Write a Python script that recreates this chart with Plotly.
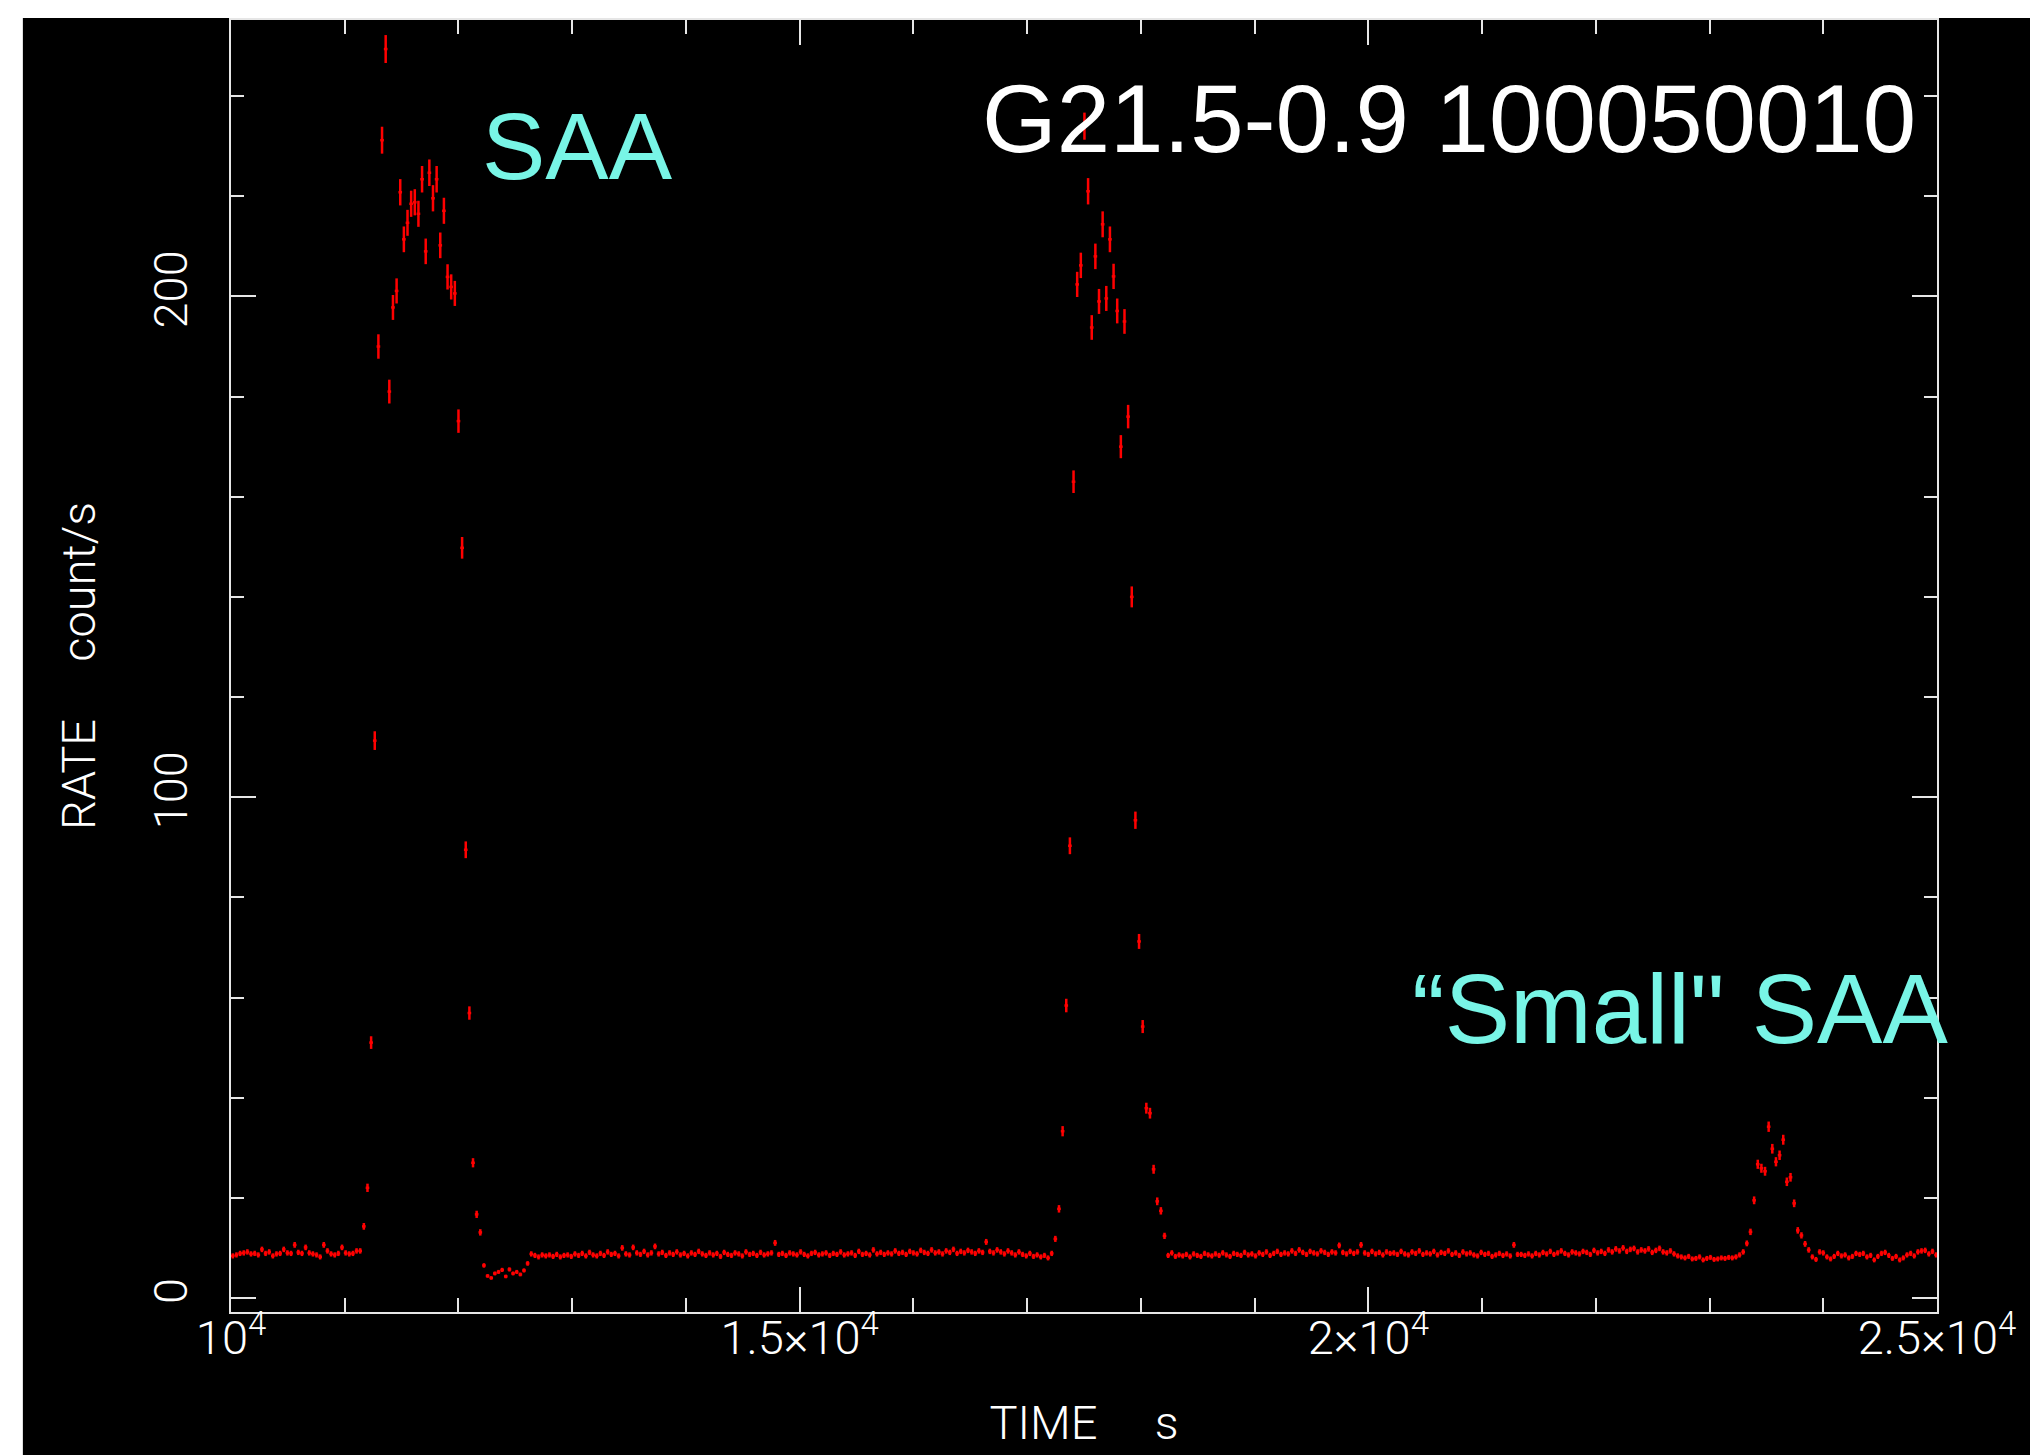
import numpy as np
import plotly.graph_objects as go

# light curve: 32 s bins from 1e4 s to 2.5e4 s
BIN = 32.0
T_START = 10000.0

rate_pre_saa1 = [8.4, 8.6, 8.9, 9.0, 9.2, 8.8, 8.9, 8.6, 9.7, 8.9,
                 9.2, 8.4, 8.8, 8.9, 9.7, 9.0, 8.9, 10.6, 9.1, 8.9,
                 10.1, 9.0, 8.8, 8.6, 8.2, 10.6, 9.4, 8.8, 8.6, 8.9,
                 10.1, 9.0, 8.8, 8.9, 9.4]
rate_saa1 = [9.4, 14.3, 22.0, 51.0, 111.3, 190.0, 231.2, 249.4, 181.0, 197.8,
             201.1, 220.8, 211.4, 214.7, 218.5, 218.8, 216.5, 223.4, 209.0, 224.7,
             219.6, 223.4, 210.2, 217.1, 203.9, 201.9, 200.6, 175.1, 149.8, 89.5,
             56.9, 27.0, 16.7, 13.1, 6.5]
rate_dip = [4.4, 4.0, 4.9, 5.2, 5.6, 4.3, 5.7, 4.9, 5.2, 4.7, 5.5, 6.9]
rate_mid1 = [8.8, 8.5, 8.2, 8.6, 8.4, 8.6, 8.3, 8.7, 8.2, 8.5,
             8.6, 8.3, 8.8, 8.5, 8.9, 8.4, 9.1, 8.6, 8.4, 8.9,
             8.5, 9.2, 8.7, 8.9, 8.4, 10.0, 8.8, 8.6, 10.1, 9.0,
             8.7, 9.3, 8.6, 9.0, 10.3, 8.8, 9.1, 8.5, 9.0, 8.7,
             9.2, 8.6, 8.9, 8.4, 9.0, 8.7, 9.3, 8.8, 8.5, 9.0,
             8.6, 8.9, 8.3, 9.1, 8.7, 8.5, 9.0, 8.8, 8.4, 9.2,
             8.7, 8.9, 8.5, 9.1, 8.6, 8.8, 9.0, 11.0, 8.7, 8.9,
             8.5, 9.0, 8.8, 8.6, 9.2, 8.7, 8.4, 8.9, 9.1, 8.6,
             8.8, 9.0, 8.5, 8.9, 8.7, 9.2, 8.6, 8.8, 9.0, 8.5,
             9.3, 8.7, 8.9, 8.6, 9.6, 8.8, 9.1, 8.7, 9.0, 8.8,
             9.4, 8.9, 9.1, 8.7, 9.3, 9.0, 8.8, 9.5, 9.1, 8.9,
             9.6, 9.0, 9.2, 8.8, 9.4, 9.1, 9.7, 8.9, 9.3, 9.0,
             9.5, 9.2, 8.9, 9.4, 9.1, 11.2, 9.3, 9.0, 9.6, 9.2,
             8.8, 9.4, 9.0, 8.6, 9.2, 8.7, 8.4, 8.9, 8.3, 8.6,
             8.2, 8.5]
rate_saa2 = [8.0, 8.9, 11.8, 17.8, 33.3, 58.4, 90.3, 163.0, 202.4, 206.2,
             234.0, 221.0, 193.8, 208.0, 199.0, 214.4, 199.6, 211.4, 204.0, 197.1,
             170.0, 195.0, 176.0, 140.0, 95.4, 71.2, 54.2, 37.9, 36.9, 25.7,
             19.3, 17.4, 12.4, 8.5, 9.0]
rate_mid2 = [8.3, 8.6, 8.4, 8.7, 8.2, 8.8, 8.5, 8.3, 8.9, 8.6,
             8.4, 8.8, 8.5, 9.0, 8.6, 8.3, 8.9, 8.7, 8.5, 9.1,
             8.6, 8.8, 8.4, 9.0, 8.7, 9.2, 8.5, 8.9, 9.3, 8.7,
             9.0, 8.8, 9.4, 8.9, 9.6, 9.1, 8.7, 9.3, 9.0, 8.8,
             9.4, 9.1, 8.7, 9.2, 9.0, 10.5, 9.1, 8.8, 9.3, 8.9,
             9.2, 10.6, 9.0, 8.7, 9.3, 8.8, 9.1, 8.6, 9.2, 8.9,
             9.0, 8.7, 9.3, 8.8, 8.6, 9.2, 8.9, 9.4, 8.7, 9.0,
             8.8, 9.3, 8.6, 9.1, 8.9, 9.4, 8.7, 9.0, 8.5, 9.2,
             8.8, 9.0, 8.6, 8.4, 9.1, 8.7, 8.9, 8.3, 8.6, 8.9,
             8.5, 8.8, 8.4, 10.6, 8.7, 8.7, 8.5, 8.8, 8.4, 8.9,
             8.6, 9.1, 8.8, 9.3, 8.7, 9.0, 9.4, 8.9, 8.6, 9.2,
             9.0, 8.8, 9.3, 9.1, 8.7, 9.5, 9.0, 9.3, 8.9, 9.6,
             9.2, 9.8, 9.4, 10.0, 9.3, 9.7, 9.9, 9.2, 9.6, 9.4,
             9.8, 9.1, 9.5, 9.9, 9.2, 9.0, 9.4, 8.8, 8.4, 8.2,
             8.0, 8.3, 7.8, 7.9, 8.2, 7.6, 7.9, 8.1, 7.7, 7.8,
             8.0, 7.9, 8.1, 8.0, 8.2, 8.6]
rate_small_saa = [9.2, 10.9, 13.2, 19.5, 26.7, 25.9, 25.3, 34.2, 29.8, 27.2,
                  28.5, 31.6, 23.2, 24.1, 18.9, 13.5, 12.5, 10.8, 9.6, 8.2,
                  7.7]
rate_post = [9.2, 9.0, 8.2, 7.8, 8.3, 8.9, 8.4, 8.6, 8.0, 8.3,
             8.9, 8.7, 8.9, 8.2, 8.5, 7.6, 8.3, 8.9, 9.1, 8.5,
             7.9, 8.3, 7.6, 8.0, 8.6, 8.9, 8.4, 9.2, 9.4, 9.5,
             8.8, 9.3, 8.6]

x_tickvals = [10000, 15000, 20000, 25000]
x_ticktext = ["10<sup>4</sup>", "1.5×10<sup>4</sup>", "2×10<sup>4</sup>", "2.5×10<sup>4</sup>"]
y_tickvals = [0, 100, 200]

rate = np.array(rate_pre_saa1 + rate_saa1 + rate_dip + rate_mid1 + rate_saa2
                + rate_mid2 + rate_small_saa + rate_post)
time = T_START + BIN * (np.arange(len(rate)) + 0.5)
rate_err = np.sqrt(rate / BIN)

RED = "#ff0000"
CYAN = "#78f5e6"
FRAME = "#e6e6e6"
TICK_FONT = dict(family="Roboto, DejaVu Sans", size=47, color="white", weight=300)
NBSP = "\u00a0"

fig = go.Figure()
fig.add_trace(
    go.Scatter(
        x=time,
        y=rate,
        mode="markers",
        marker=dict(size=1, color="rgba(0,0,0,0)"),
        error_y=dict(type="data", array=rate_err, color=RED, thickness=2.5, width=0),
        error_x=dict(type="constant", value=BIN / 2, color=RED, thickness=2.5, width=0),
        showlegend=False,
    )
)

axis_common = dict(
    showgrid=False,
    zeroline=False,
    showline=True,
    linecolor=FRAME,
    linewidth=2,
    mirror="allticks",
    ticks="inside",
    ticklen=25,
    tickwidth=2,
    tickcolor=FRAME,
    tickfont=TICK_FONT,
)

# page body has an 8 px margin, so the figure is 8 px smaller than the window
fig.update_layout(
    width=2030,
    height=1447,
    margin=dict(l=223, r=101, t=10, b=143),
    paper_bgcolor="white",
    plot_bgcolor="black",
    xaxis=dict(
        **axis_common,
        range=[10000, 25000],
        tickvals=x_tickvals,
        ticktext=x_ticktext,
        minor=dict(dtick=1000, ticks="inside", ticklen=14, tickwidth=2, tickcolor=FRAME),
        ticklabelstandoff=-16,
        title=dict(text="TIME" + NBSP * 5 + "s", font=TICK_FONT, standoff=42),
    ),
    yaxis=dict(
        **axis_common,
        range=[-2.8, 255.2],
        tickvals=y_tickvals,
        tickangle=-90,
        minor=dict(dtick=20, ticks="inside", ticklen=13, tickwidth=2, tickcolor=FRAME),
        ticklabelstandoff=23,
        title=dict(text="RATE" + NBSP * 5 + "count/s", font=TICK_FONT, standoff=33),
    ),
    shapes=[
        dict(type="rect", xref="paper", yref="paper", x0=-0.122, x1=1.2, y0=-0.2, y1=1.0015,
             fillcolor="black", line=dict(width=0), layer="below"),
    ],
    annotations=[
        dict(text="SAA", x=12186, y=230, xanchor="left", yanchor="middle", showarrow=False,
             font=dict(family="Liberation Sans", size=95, color=CYAN)),
        dict(text="G21.5-0.9 100050010", x=24832, y=235.5, xanchor="right", yanchor="middle",
             showarrow=False, font=dict(family="Liberation Sans", size=96, color="white")),
        dict(text="“Small\" SAA", x=20365, y=57.8, xanchor="left", yanchor="middle",
             showarrow=False, font=dict(family="Liberation Sans", size=98, color=CYAN)),
    ],
)

fig.write_html("out.html")
